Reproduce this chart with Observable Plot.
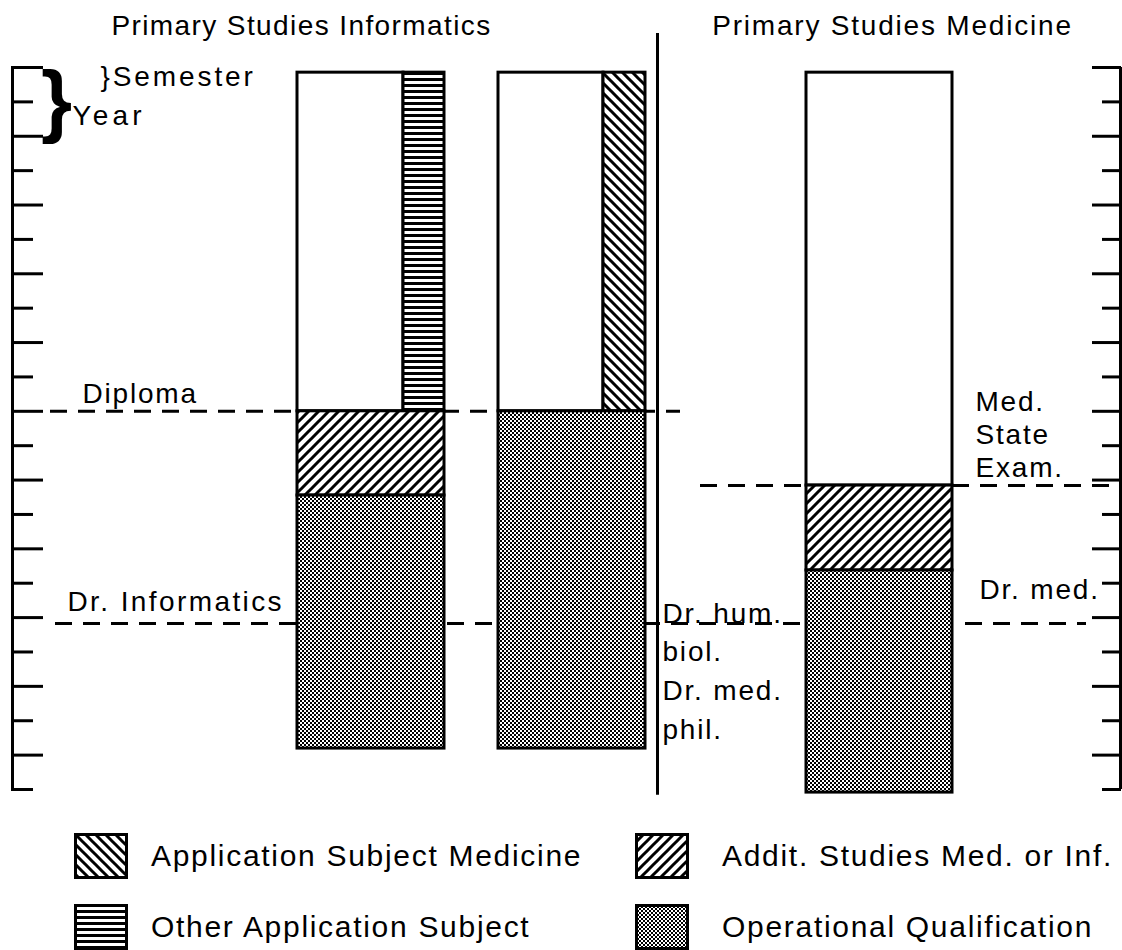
<!DOCTYPE html>
<html>
<head>
<meta charset="utf-8">
<script src="https://cdn.jsdelivr.net/npm/d3@7"></script>
<script src="https://cdn.jsdelivr.net/npm/@observablehq/plot@0.6"></script>
<style>
  html, body { margin: 0; padding: 0; background: #fff; }
  #chart text { letter-spacing: 1.8px; }
  #legend { display: grid; grid-template-columns: 561px 487px; row-gap: 25px; padding: 23px 0 0 74px; }
  .item { display: flex; align-items: center; height: 46px; }
  .item span { font-family: "Liberation Sans", Arial, sans-serif; font-size: 30px; letter-spacing: 1.7px; color: #000; }
</style>
</head>
<body>
<svg width="0" height="0" style="position:absolute">
  <defs>
    <pattern id="p-other" patternUnits="userSpaceOnUse" width="6" height="6">
      <rect width="6" height="6" fill="#fff"/><rect y="0" width="6" height="3" fill="#000"/>
    </pattern>
    <pattern id="p-appmed" patternUnits="userSpaceOnUse" width="10" height="10">
      <rect width="10" height="10" fill="#fff"/>
      <path d="M-1,-1L11,11M-1,9L1,11M9,-1L11,1" stroke="#000" stroke-width="3"/>
    </pattern>
    <pattern id="p-addit" patternUnits="userSpaceOnUse" width="10" height="10">
      <rect width="10" height="10" fill="#fff"/>
      <path d="M-1,11L11,-1M-1,1L1,-1M9,11L11,9" stroke="#000" stroke-width="3"/>
    </pattern>
    <pattern id="p-oper" patternUnits="userSpaceOnUse" width="4" height="4">
      <rect width="4" height="4" fill="#fff"/>
      <rect x="0" y="0" width="2" height="2" fill="#000"/>
      <rect x="2" y="2" width="2" height="2" fill="#000"/>
    </pattern>
  </defs>
</svg>
<div id="chart"></div>
<div id="legend"></div>
<script>
// ---------- data (semesters counted from the top of the scale) ----------
const segmentBar   = ["inf1", "inf1", "inf1", "inf1", "inf2", "inf2", "inf2", "med", "med", "med"];
const segmentPart  = ["left", "right", "full", "full", "left", "right", "full", "full", "full", "full"];
const segmentType  = ["blank", "other", "addit", "oper", "blank", "appmed", "oper", "blank", "addit", "oper"];
const segmentStart = [0.15, 0.15, 10, 12.45, 0.15, 0.15, 10, 0.15, 12.16, 14.63];
const segmentEnd   = [10, 10, 12.45, 19.81, 10, 10, 19.81, 12.16, 14.63, 21.09];

const semesterTicks = d3.range(0, 22);

const milestoneNames    = ["Diploma", "Dr. Informatics", "Med. State Exam.", "Dr. med.", "Dr. hum. biol."];
const milestoneSemester = [10, 16.17, 12.16, 16.17, 16.17];

const titles = ["Primary Studies Informatics", "Primary Studies Medicine"];

const legendTypes  = ["appmed", "addit", "other", "oper"];
const legendLabels = ["Application Subject Medicine", "Addit. Studies Med. or Inf.", "Other Application Subject", "Operational Qualification"];

// ---------- layout (x in layout units, y in semesters) ----------
const barX = {inf1: [297, 403, 444], inf2: [498, 603, 645], med: [806, 806, 952]};
const partX = (bar, part) => {
  const [a, s, b] = barX[bar];
  return part === "left" ? [a, s] : part === "right" ? [s, b] : [a, b];
};
const milestoneX = [[50, 680], [55, 806], [700, 1121], [965, 1086], [955, 1086]];
const fills = {blank: "white", other: "url(#p-other)", appmed: "url(#p-appmed)", addit: "url(#p-addit)", oper: "url(#p-oper)"};
const spacing = {"Primary Studies Informatics": 1.4, "Primary Studies Medicine": 1.8, "}Semester": 2.9, "Year": 4.2, "Dr. Informatics": 2.4};

const segments = segmentBar.map((bar, i) => {
  const [x1, x2] = partX(bar, segmentPart[i]);
  return {bar, type: segmentType[i], x1, x2, y1: segmentStart[i], y2: segmentEnd[i]};
});
const milestones = milestoneNames.slice(0, 4).map((name, i) => ({
  name, y: milestoneSemester[i], x1: milestoneX[i][0], x2: milestoneX[i][1]
}));

const font = "Liberation Sans, Arial, sans-serif";
const textMarks = [
  Plot.text(titles, {x: [301, 892], y: [-1.22, -1.22], text: d => d, fontSize: 28, fontFamily: font}),
  Plot.text(["}Semester"], {x: [100], y: [0.29], text: d => d, textAnchor: "start", fontSize: 28, fontFamily: font}),
  Plot.text(["}"], {x: [57], y: [0.98], text: d => d, fontSize: 80, fontWeight: "bold", fontFamily: font}),
  Plot.text(["Year"], {x: [72], y: [1.40], text: d => d, textAnchor: "start", fontSize: 28, fontFamily: font}),
  Plot.text(["Diploma"], {x: [82], y: [9.5], text: d => d, textAnchor: "start", fontSize: 28, fontFamily: font}),
  Plot.text(["Dr. Informatics"], {x: [67], y: [15.56], text: d => d, textAnchor: "start", fontSize: 28, fontFamily: font}),
  Plot.text(["Med.\nState\nExam."], {x: [975], y: [10.65], text: d => d, textAnchor: "start", lineHeight: 1.18, fontSize: 28, fontFamily: font}),
  Plot.text(["Dr. med."], {x: [979], y: [15.21], text: d => d, textAnchor: "start", fontSize: 28, fontFamily: font}),
  Plot.text(["Dr. hum.\nbiol.\nDr. med.\nphil."], {x: [662], y: [17.48], text: d => d, textAnchor: "start", lineHeight: 1.39, fontSize: 28, fontFamily: font})
];

const plot = Plot.plot({
  width: 1122,
  height: 810,
  marginTop: 67,
  marginBottom: 21,
  marginLeft: 0,
  marginRight: 0,
  x: {domain: [0, 1122], axis: null},
  y: {domain: [0, 21], reverse: true, axis: null},
  style: {background: "white", color: "black"},
  marks: [
    // scales on both sides
    Plot.ruleX([12], {y1: 0, y2: 21, stroke: "black", strokeWidth: 3}),
    Plot.ruleY(semesterTicks, {y: d => d, x1: 11, x2: d => d % 2 === 0 ? 43 : 33, stroke: "black", strokeWidth: 3}),
    Plot.ruleX([1120], {y1: 0, y2: 21, stroke: "black", strokeWidth: 3}),
    Plot.ruleY(semesterTicks, {y: d => d, x1: d => d % 2 === 0 ? 1092 : 1102, x2: 1121, stroke: "black", strokeWidth: 3}),
    // milestone dashed lines
    Plot.ruleY(milestones, {y: "y", x1: "x1", x2: "x2", stroke: "black", strokeWidth: 3, strokeDasharray: "17,11"}),
    // separator
    Plot.ruleX([657], {y1: -0.99, y2: 21.17, stroke: "black", strokeWidth: 3}),
    // bar segments
    ...Object.keys(fills).map(t => Plot.rect(segments.filter(d => d.type === t), {
      x1: "x1", x2: "x2", y1: "y1", y2: "y2", fill: fills[t], stroke: "black", strokeWidth: 3
    })),
    ...textMarks
  ]
});
document.getElementById("chart").appendChild(plot);
d3.select(plot).selectAll("text").each(function () {
  const s = spacing[this.textContent];
  if (s != null) this.style.letterSpacing = s + "px";
});

// legend
const legend = d3.select("#legend");
legendTypes.forEach((t, i) => {
  const item = legend.append("div").attr("class", "item");
  const svg = item.append("svg").attr("width", 54).attr("height", 46);
  svg.append("rect").attr("x", 1.5).attr("y", 1.5).attr("width", 51).attr("height", 43)
    .attr("fill", fills[t]).attr("stroke", "black").attr("stroke-width", 3);
  item.append("span").style("margin-left", i % 2 === 0 ? "23px" : "33px").text(legendLabels[i]);
});
</script>
</body>
</html>
